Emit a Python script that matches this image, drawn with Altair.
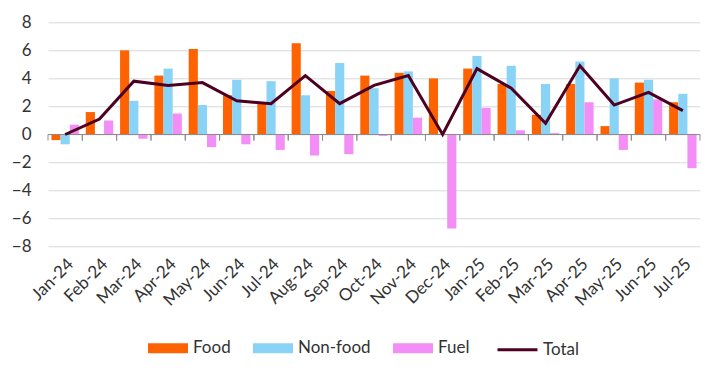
import altair as alt
import pandas as pd

months = ["Jan-24", "Feb-24", "Mar-24", "Apr-24", "May-24", "Jun-24", "Jul-24",
          "Aug-24", "Sep-24", "Oct-24", "Nov-24", "Dec-24", "Jan-25", "Feb-25",
          "Mar-25", "Apr-25", "May-25", "Jun-25", "Jul-25"]
food = [-0.4, 1.6, 6.0, 4.2, 6.1, 2.8, 2.2, 6.5, 3.1, 4.2, 4.4, 4.0, 4.7, 3.6, 1.4, 3.6, 0.6, 3.7, 2.3]
nonfood = [-0.7, 0.0, 2.4, 4.7, 2.1, 3.9, 3.8, 2.8, 5.1, 3.3, 4.5, 0.0, 5.6, 4.9, 3.6, 5.2, 4.0, 3.9, 2.9]
fuel = [0.7, 1.0, -0.3, 1.5, -0.9, -0.7, -1.1, -1.5, -1.4, -0.1, 1.2, -6.7, 1.9, 0.3, 0.1, 2.3, -1.1, 2.5, -2.4]
total = [0.0, 1.1, 3.8, 3.5, 3.7, 2.4, 2.2, 4.2, 2.2, 3.5, 4.2, 0.0, 4.7, 3.3, 0.8, 4.9, 2.1, 3.0, 1.7]

series_names = ["Food", "Non-food", "Fuel"]
series_colors = ["#ff6200", "#89d3f7", "#f28ef5"]
total_color = "#4d0020"
y_ticks = [-8, -6, -4, -2, 0, 2, 4, 6, 8]

rows = []
for name, vals in zip(series_names, [food, nonfood, fuel]):
    for m, v in zip(months, vals):
        rows.append({"month": m, "series": name, "value": v})
bars_df = pd.DataFrame(rows)
total_df = pd.DataFrame({"month": months, "value": total, "series": "Total"})
ticks_df = pd.DataFrame({"month": months})
zero_df = pd.DataFrame({"v": [0]})

W = 652
H = 224.4
step = W / len(months)
FONT = "Lato"

xscale = alt.Scale(domain=months, paddingInner=0.2, paddingOuter=0.1)
yscale = alt.Scale(domain=[-8, 8], nice=False)

x_axis = alt.Axis(title=None, labelAngle=-45, ticks=False, domain=False,
                  grid=False, labelFontSize=17, labelPadding=9, labelOverlap=False,
                  labelColor="#333333", labelFont=FONT)
y_axis = alt.Axis(title=None, values=y_ticks, tickCount=9, grid=True, gridColor="#d9d9d9",
                  domain=False, ticks=False, labelFontSize=17, labelOverlap=False,
                  labelPadding=17, labelColor="#333333", labelFont=FONT)

x_enc = alt.X("month:N", sort=months, scale=xscale, axis=x_axis)
y_enc = alt.Y("value:Q", scale=yscale, axis=y_axis)

bars = alt.Chart(bars_df).mark_bar().encode(
    x=x_enc,
    xOffset=alt.XOffset("series:N", sort=series_names, scale=alt.Scale(paddingInner=0, paddingOuter=0)),
    y=y_enc,
    color=alt.Color("series:N", sort=series_names,
                    scale=alt.Scale(domain=series_names, range=series_colors),
                    legend=alt.Legend(title=None, orient="none", direction="horizontal",
                                      legendX=100, legendY=306, padding=0,
                                      symbolType="M-1,-0.25H1V0.25H-1Z", symbolSize=1600,
                                      symbolStrokeWidth=0, symbolOpacity=1,
                                      labelFontSize=17, labelFont=FONT, labelColor="#333333",
                                      labelOffset=5, columnPadding=22)),
)

zero = alt.Chart(zero_df).mark_rule(color="#8c8c8c", strokeWidth=1).encode(
    y=alt.Y("v:Q", scale=yscale, axis=y_axis))

tick_l = alt.Chart(ticks_df).mark_rule(color="#8c8c8c", strokeWidth=1, xOffset=-step / 2).encode(
    x=x_enc,
    y=alt.datum(0), y2=alt.datum(-0.43))
tick_r = alt.Chart(ticks_df).mark_rule(color="#8c8c8c", strokeWidth=1, xOffset=step / 2).encode(
    x=x_enc,
    y=alt.datum(0), y2=alt.datum(-0.43))

line = alt.Chart(total_df).mark_line(strokeWidth=3).encode(
    x=x_enc,
    y=y_enc,
    stroke=alt.Stroke("series:N", scale=alt.Scale(domain=["Total"], range=[total_color]),
                      legend=alt.Legend(title=None, orient="none", direction="horizontal",
                                        legendX=448, legendY=306, padding=0,
                                        symbolType="stroke", symbolSize=1600,
                                        symbolStrokeWidth=3,
                                        labelFontSize=17, labelFont=FONT, labelColor="#333333",
                                        labelOffset=4)),
)

chart = alt.layer(bars, zero, tick_l, tick_r, line).resolve_scale(
    color="independent"
).properties(
    width=W, height=H,
    autosize=alt.AutoSizeParams(type="none"),
    padding={"left": 40, "top": 14.3, "right": 14, "bottom": 123},
).configure_view(stroke=None)

chart.save("out.html", embed_options={"renderer": "svg", "actions": False})
